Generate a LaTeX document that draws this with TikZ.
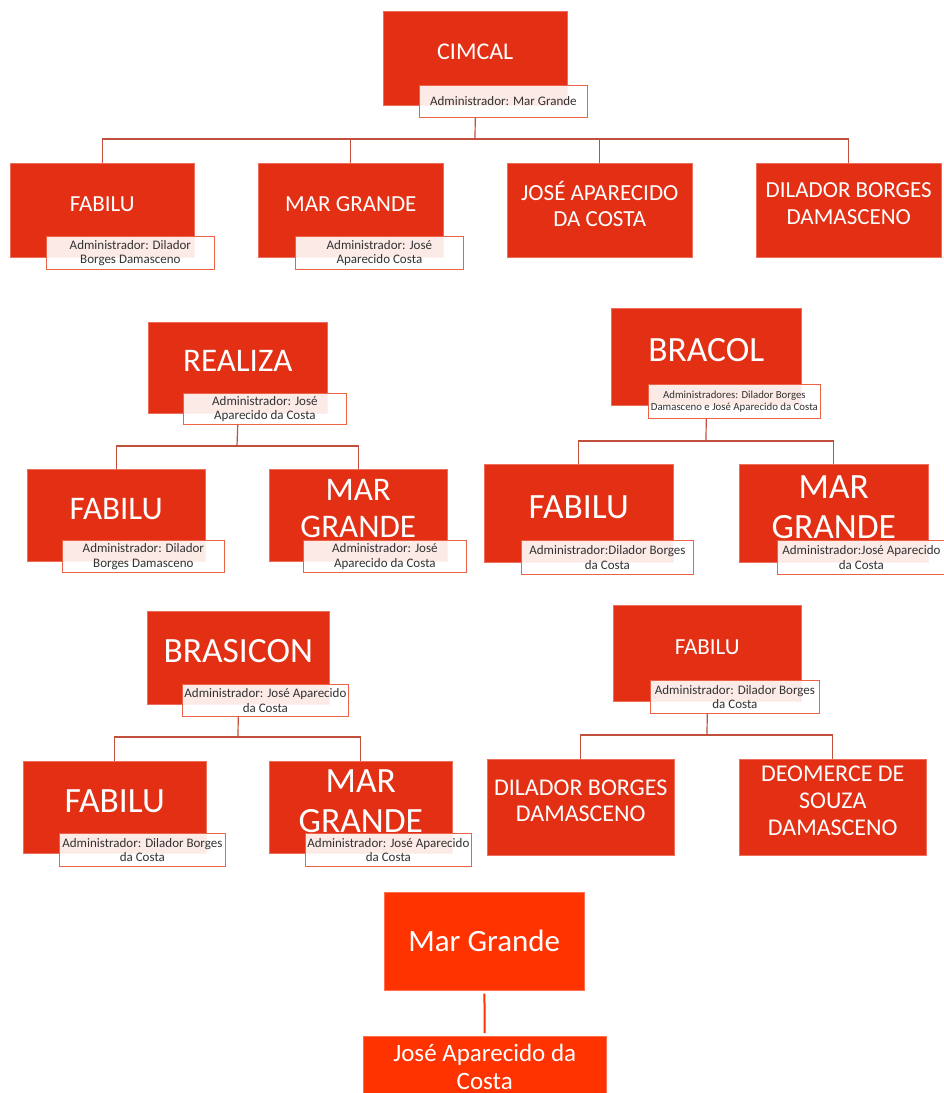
\documentclass[tikz,border=0pt]{standalone}
\usepackage{fontspec}
\setmainfont{Carlito}
\usetikzlibrary{positioning, calc}

\definecolor{orgred}{RGB}{227,47,20}
\definecolor{brightred}{RGB}{255,51,0}
\definecolor{linkred}{RGB}{192,80,60}
\definecolor{admline}{RGB}{236,98,70}
\definecolor{admtext}{RGB}{50,50,50}

\begin{document}
\begin{tikzpicture}[
    x=1pt, y=-1pt,
    unit/.style={rectangle, draw=orgred!70!white, line width=0.5pt, fill=orgred, text=white, align=center, text depth=13pt, inner sep=0pt, anchor=north west},
    leaf/.style={rectangle, draw=brightred!70!white, line width=0.5pt, fill=brightred, text=white, align=center, inner sep=0pt, anchor=north west},
    tmid/.style={font=\fontsize{23}{26.7}\selectfont},
    tbig/.style={font=\fontsize{33}{37}\selectfont},
    thuge/.style={font=\fontsize{35.5}{40}\selectfont},
    admin/.style={rectangle, draw=admline, line width=0.8pt, fill=white, fill opacity=0.9, text opacity=1, text=admtext, align=center, inner sep=0pt, anchor=north west, minimum height=32pt, font=\fontsize{13}{14.5}\selectfont},
    link/.style={draw=linkred, line width=1.2pt}
]
    \useasboundingbox (0,0) rectangle (944,1093);

    % CIMCAL
    \node[unit, minimum width=184pt, minimum height=94pt, font=\fontsize{24}{27}\selectfont] (cimcal) at (383,11) {CIMCAL};
    \node[admin, minimum width=168pt] (cimcal_adm) at (419,85) {Administrador: Mar Grande};

    \node[unit, tmid, minimum width=184pt, minimum height=94pt] (fabilu1) at (10,163) {FABILU};
    \node[admin, minimum width=168pt, minimum height=33pt] (fabilu1_adm) at (46,236) {Administrador: Dilador\\Borges Damasceno};
    \node[unit, tmid, minimum width=185pt, minimum height=94pt] (margrande1) at (258,163) {MAR GRANDE};
    \node[admin, minimum width=168pt, minimum height=33pt] (margrande1_adm) at (295,236) {Administrador: José\\Aparecido Costa};
    \node[unit, tmid, minimum width=185pt, minimum height=94pt] (jose1) at (507,163) {JOSÉ APARECIDO\\DA COSTA};
    \node[unit, tmid, minimum width=185pt, minimum height=94pt] (dilador1) at (756,163) {DILADOR BORGES\\DAMASCENO};

    % REALIZA
    \node[unit, tbig, minimum width=179pt, minimum height=91pt] (realiza) at (148,322) {REALIZA};
    \node[admin, minimum width=163pt, minimum height=31pt] (realiza_adm) at (183,393) {Administrador: José\\Aparecido da Costa};

    \node[unit, tbig, minimum width=178pt, minimum height=92pt] (fabilu2) at (27,469) {FABILU};
    \node[admin, minimum width=162pt] (fabilu2_adm) at (62,540) {Administrador: Dilador\\Borges Damasceno};
    \node[unit, tbig, minimum width=178pt, minimum height=92pt] (margrande2) at (269,469) {MAR\\GRANDE};
    \node[admin, minimum width=163pt] (margrande2_adm) at (303,540) {Administrador: José\\Aparecido da Costa};

    % BRACOL
    \node[unit, thuge, minimum width=190pt, minimum height=97pt] (bracol) at (611,308) {BRACOL};
    \node[admin, minimum width=172pt, minimum height=34pt, font=\fontsize{10.8}{11.7}\selectfont] (bracol_adm) at (648,384) {Administradores: Dilador Borges\\Damasceno e José Aparecido da Costa};

    \node[unit, thuge, minimum width=189pt, minimum height=98pt] (fabilu3) at (484,464) {FABILU};
    \node[admin, minimum width=172pt, minimum height=34pt] (fabilu3_adm) at (521,540) {Administrador:Dilador Borges\\da Costa};
    \node[unit, thuge, minimum width=189pt, minimum height=98pt] (margrande3) at (739,464) {MAR\\GRANDE};
    \node[admin, minimum width=168pt, minimum height=34pt] (margrande3_adm) at (777,540) {Administrador:José Aparecido\\da Costa};

    % BRASICON
    \node[unit, thuge, minimum width=182pt, minimum height=93pt] (brasicon) at (147,611) {BRASICON};
    \node[admin, minimum width=166pt] (brasicon_adm) at (182,684) {Administrador: José Aparecido\\da Costa};

    \node[unit, thuge, minimum width=183pt, minimum height=92pt] (fabilu4) at (23,761) {FABILU};
    \node[admin, minimum width=166pt, minimum height=33pt] (fabilu4_adm) at (59,833) {Administrador: Dilador Borges\\da Costa};
    \node[unit, thuge, minimum width=183pt, minimum height=92pt] (margrande4) at (269,761) {MAR\\GRANDE};
    \node[admin, minimum width=166pt, minimum height=33pt] (margrande4_adm) at (305,833) {Administrador: José Aparecido\\da Costa};

    % FABILU
    \node[unit, tmid, minimum width=188pt, minimum height=96pt] (fabilu5) at (613,605) {FABILU};
    \node[admin, minimum width=169pt, minimum height=33pt] (fabilu5_adm) at (650,680) {Administrador: Dilador Borges\\da Costa};

    \node[unit, font=\fontsize{24}{26.7}\selectfont, minimum width=187pt, minimum height=96pt] (dilador5) at (487,759) {DILADOR BORGES\\DAMASCENO};
    \node[unit, font=\fontsize{24}{26.7}\selectfont, minimum width=187pt, minimum height=96pt] (deomerce5) at (739,759) {DEOMERCE DE\\SOUZA\\DAMASCENO};

    % Mar Grande
    \node[leaf, minimum width=200pt, minimum height=98pt, font=\fontsize{31}{34}\selectfont] (margrande6) at (384,892) {Mar Grande};
    \node[leaf, minimum width=243pt, minimum height=62pt, font=\fontsize{25}{28}\selectfont] (jose6) at (363,1036) {José Aparecido da\\Costa};

    % Connect components
    \coordinate (cimcal_bus) at (475,139);
    \coordinate (realiza_bus) at (237,446);
    \coordinate (bracol_bus) at (706,441);
    \coordinate (brasicon_bus) at (238,737);
    \coordinate (fabilu5_bus) at (707,735);

    \draw[link] (cimcal |- cimcal_adm.south) -- (cimcal_bus);
    \foreach \c in {fabilu1, margrande1, jose1, dilador1}
        \draw[link] (cimcal_bus) -| (\c.north);

    \draw[link] (realiza |- realiza_adm.south) -- (realiza_bus);
    \foreach \c in {fabilu2, margrande2}
        \draw[link] (realiza_bus) -| (\c.north);

    \draw[link] (bracol |- bracol_adm.south) -- (bracol_bus);
    \foreach \c in {fabilu3, margrande3}
        \draw[link] (bracol_bus) -| (\c.north);

    \draw[link] (brasicon |- brasicon_adm.south) -- (brasicon_bus);
    \foreach \c in {fabilu4, margrande4}
        \draw[link] (brasicon_bus) -| (\c.north);

    \draw[link] (fabilu5 |- fabilu5_adm.south) -- (fabilu5_bus);
    \foreach \c in {dilador5, deomerce5}
        \draw[link] (fabilu5_bus) -| (\c.north);

    \draw[draw=brightred, line width=2pt, shorten <=3pt, shorten >=3pt] (margrande6) -- (jose6);

\end{tikzpicture}
\end{document}
